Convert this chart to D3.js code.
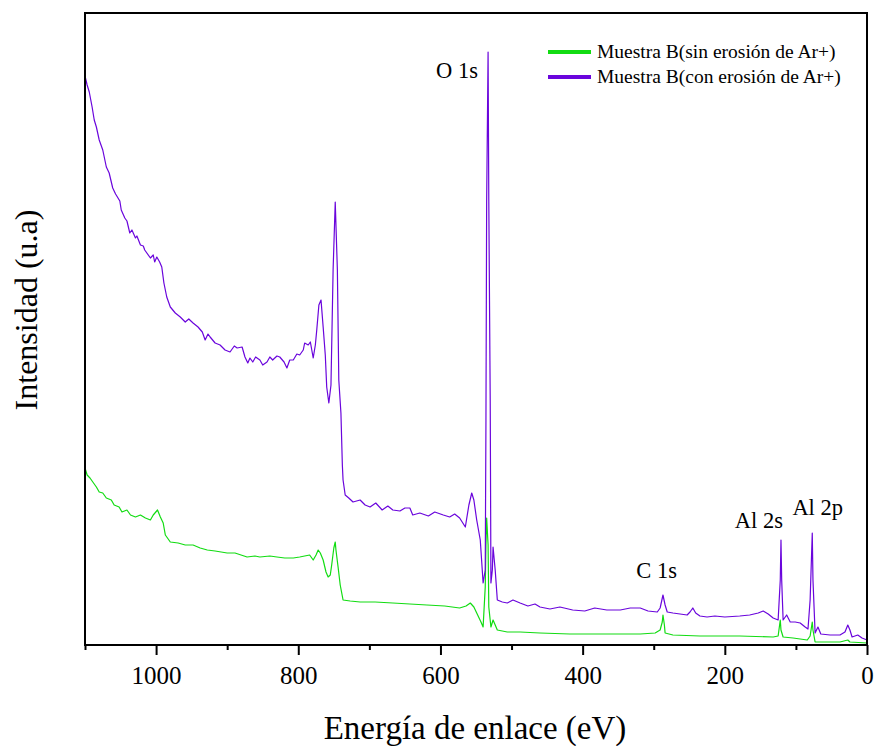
<!DOCTYPE html>
<html>
<head>
<meta charset="utf-8">
<script src="https://cdn.jsdelivr.net/npm/d3@7"></script>
<style>
  body { margin: 0; background: #fff; }
  svg text { font-family: "Liberation Serif", "Times New Roman", serif; fill: #000; }
</style>
</head>
<body>
<svg id="chart" width="878" height="746"></svg>
<script>
'use strict';

// Binding energy (eV) and intensity (a.u.)
var eVSin = [1100, 1097, 1093, 1089, 1084, 1080, 1075, 1070, 1063, 1059, 1052, 1048, 1041, 1036, 1029, 1022, 1015, 1008, 1004, 998,
    994, 990, 987, 980, 969, 959, 948, 938, 928, 917, 900, 889, 872, 861, 854, 840, 830, 819, 807, 798,
    784, 779, 775, 772, 769, 765, 761, 758, 755, 753, 750, 748, 747, 744, 741, 737, 727, 713, 692, 667,
    643, 619, 594, 573, 564, 558, 553, 549, 543, 540, 537, 536, 535, 533, 532, 529, 526, 523, 520, 506,
    488, 460, 418, 366, 319, 298, 291, 288, 287, 285, 284, 273, 235, 179, 132, 125, 122, 121, 118, 104,
    84, 80, 77, 76, 73, 38, 27, 24, 0];
var intSin = [177, 170, 167, 163, 158, 153, 152, 147, 145, 140, 138, 133, 135, 130, 128, 130, 127, 125, 130, 135,
    128, 122, 110, 103, 102, 100, 100, 97, 95, 94, 92, 92, 88, 89, 88, 89, 88, 87, 87, 88,
    90, 85, 90, 95, 92, 85, 73, 68, 70, 80, 97, 103, 95, 78, 60, 45, 44, 43, 43, 42,
    41, 40, 39, 37, 39, 42, 38, 32, 23, 18, 58, 100, 127, 100, 38, 18, 25, 20, 15, 13,
    13, 12, 11, 11, 11, 12, 15, 23, 30, 20, 12, 10, 9, 9, 8, 9, 25, 15, 8, 7,
    5, 9, 23, 15, 3, 3, 5, 3, 2];

var eVCon = [1100, 1097, 1094, 1090, 1087, 1084, 1080, 1075, 1070, 1066, 1061, 1057, 1051, 1049, 1044, 1041, 1037, 1034, 1029, 1027,
    1022, 1018, 1016, 1008, 1004, 1002, 999, 995, 992, 989, 985, 980, 973, 966, 959, 954, 948, 941, 935, 931,
    927, 924, 917, 910, 903, 896, 890, 886, 879, 875, 871, 868, 864, 860, 854, 850, 844, 840, 836, 830,
    826, 820, 816, 812, 807, 802, 798, 793, 791, 786, 783, 779, 776, 774, 771, 768, 765, 762, 760, 757,
    754, 751, 748, 745, 743, 740, 738, 737, 734, 729, 723, 713, 706, 699, 691, 682, 674, 667, 657, 650,
    643, 639, 629, 617, 608, 596, 587, 580, 573, 565, 560, 556, 553, 549, 544, 540, 537, 536, 535, 533,
    532, 530, 529, 527, 526, 523, 520, 513, 506, 498, 488, 477, 467, 460, 446, 432, 414, 397, 383, 366,
    347, 333, 319, 308, 295, 291, 287, 284, 281, 273, 263, 253, 249, 245, 241, 235, 225, 214, 200, 179,
    165, 153, 146, 139, 132, 125, 122, 121, 120, 118, 115, 113, 108, 101, 94, 87, 83, 80, 77, 76,
    73, 69, 65, 52, 38, 31, 27, 24, 21, 13, 7, 0];
var intCon = [569, 560, 553, 538, 525, 518, 505, 495, 478, 472, 457, 451, 444, 435, 427, 424, 412, 415, 407, 409,
    400, 399, 395, 387, 390, 383, 388, 383, 378, 362, 348, 338, 332, 328, 323, 326, 322, 318, 313, 305,
    311, 308, 302, 300, 295, 293, 299, 297, 298, 288, 282, 287, 283, 288, 285, 280, 283, 288, 285, 289,
    288, 283, 277, 285, 285, 291, 290, 295, 302, 300, 303, 287, 300, 315, 340, 345, 318, 290, 258, 242,
    260, 375, 443, 375, 265, 232, 180, 165, 150, 147, 143, 145, 140, 138, 142, 135, 139, 135, 134, 137,
    137, 130, 132, 129, 133, 130, 128, 131, 127, 118, 140, 152, 145, 125, 105, 62, 75, 225, 445, 593,
    445, 245, 62, 75, 98, 75, 45, 43, 42, 45, 42, 39, 41, 38, 36, 38, 35, 34, 37, 35,
    35, 37, 37, 34, 33, 37, 50, 40, 33, 32, 31, 30, 33, 37, 32, 29, 28, 29, 28, 29,
    30, 32, 34, 31, 27, 25, 65, 105, 65, 25, 28, 30, 23, 23, 22, 18, 16, 45, 112, 65,
    12, 18, 11, 10, 10, 13, 20, 15, 8, 10, 7, 5];

var seriesNames = ['Muestra B(sin erosión de Ar+)', 'Muestra B(con erosión de Ar+)'];
var seriesColors = ['#12dc12', '#6a05dc'];

var majorTicks = [1000, 800, 600, 400, 200, 0];
var minorTicks = [1100, 900, 700, 500, 300, 100];

var peakLabels = ['O 1s', 'C 1s', 'Al 2s', 'Al 2p'];

var margin = { left: 85, right: 11, top: 13, bottom: 101 };
var WIDTH = 878, HEIGHT = 746;
var w = WIDTH - margin.left - margin.right;
var h = HEIGHT - margin.top - margin.bottom;

var svg = d3.select('#chart');
var canvas = svg.append('g')
    .attr('transform', 'translate(' + margin.left + ',' + margin.top + ')');

var x = d3.scaleLinear().domain([1100, 0]).range([0, w]);
var y = d3.scaleLinear().domain([0, 632]).range([h, 0]);

var line = d3.line()
    .x(function(d) { return x(d[0]); })
    .y(function(d) { return y(d[1]); });

var datasets = [
    d3.zip(eVSin, intSin),
    d3.zip(eVCon, intCon)
];

// spectra
canvas.append('g').attr('id', 'line-group')
    .selectAll('path')
    .data(datasets)
    .enter()
    .append('path')
    .attr('fill', 'none')
    .attr('stroke', function(d, i) { return seriesColors[i]; })
    .attr('stroke-width', 1.2)
    .attr('stroke-linejoin', 'round')
    .attr('d', line);

// frame
canvas.append('rect')
    .attr('x', 0).attr('y', 0)
    .attr('width', w).attr('height', h)
    .attr('fill', 'none')
    .attr('stroke', '#000')
    .attr('stroke-width', 2);

// x axis
var axisX = d3.axisBottom(x)
    .tickValues(majorTicks)
    .tickFormat(d3.format('d'))
    .tickSize(10)
    .tickSizeOuter(0)
    .tickPadding(11);

var gx = canvas.append('g')
    .attr('id', 'axisX')
    .attr('transform', 'translate(0,' + h + ')')
    .call(axisX);
gx.select('.domain').remove();
gx.selectAll('line').attr('stroke', '#000').attr('stroke-width', 2);
gx.selectAll('text')
    .style('font-size', '25px')
    .attr('fill', '#000');

var minorAxis = d3.axisBottom(x)
    .tickValues(minorTicks)
    .tickSize(5)
    .tickSizeOuter(0)
    .tickFormat('');
var gm = canvas.append('g')
    .attr('transform', 'translate(0,' + h + ')')
    .call(minorAxis);
gm.select('.domain').remove();
gm.selectAll('line').attr('stroke', '#000').attr('stroke-width', 2);

// axis titles
svg.append('text')
    .attr('x', 475)
    .attr('y', 739)
    .attr('text-anchor', 'middle')
    .style('font-size', '33px')
    .text('Energía de enlace (eV)');

svg.append('text')
    .attr('transform', 'translate(37,310) rotate(-90)')
    .attr('text-anchor', 'middle')
    .style('font-size', '32px')
    .text('Intensidad (u.a)');

// peak labels
var labelPos = [[478, 78], [677, 578], [783, 528], [843, 515]];
svg.selectAll('.peak')
    .data(peakLabels)
    .enter()
    .append('text')
    .attr('class', 'peak')
    .attr('x', function(d, i) { return labelPos[i][0]; })
    .attr('y', function(d, i) { return labelPos[i][1]; })
    .attr('text-anchor', 'end')
    .style('font-size', '22.5px')
    .text(function(d) { return d; });

// legend
var legend = svg.append('g').attr('transform', 'translate(548,52)');
var item = legend.selectAll('g')
    .data(seriesNames)
    .enter()
    .append('g')
    .attr('transform', function(d, i) { return 'translate(0,' + (i * 25) + ')'; });
item.append('line')
    .attr('x1', 0).attr('x2', 43)
    .attr('y1', 0).attr('y2', 0)
    .attr('stroke', function(d, i) { return seriesColors[i]; })
    .attr('stroke-width', 4);
item.append('text')
    .attr('x', 49)
    .attr('y', 6)
    .style('font-size', '19.5px')
    .text(function(d) { return d; });
</script>
</body>
</html>
